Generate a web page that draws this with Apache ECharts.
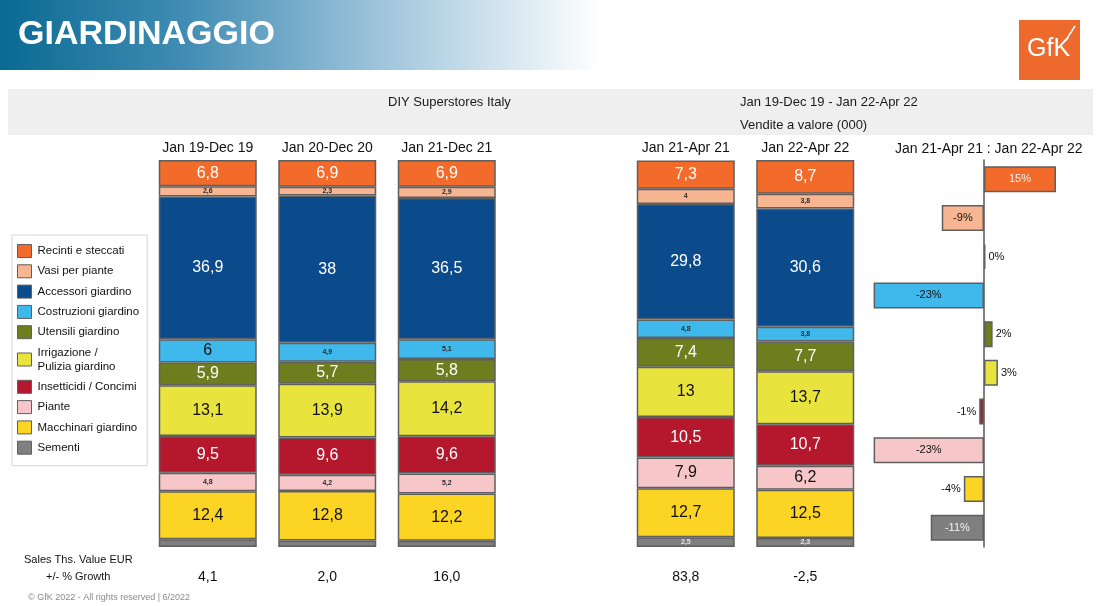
<!DOCTYPE html>
<html>
<head>
<meta charset="utf-8">
<title>Giardinaggio</title>
<script src="https://cdn.jsdelivr.net/npm/echarts@6/dist/echarts.min.js"></script>
<style>
html,body{margin:0;padding:0;background:#fff;}
#main{width:1099px;height:606px;}
</style>
</head>
<body>
<div id="main"></div>
<script>
// periodi (colonne)
var periods = ['Jan 19-Dec 19', 'Jan 20-Dec 20', 'Jan 21-Dec 21', 'Jan 21-Apr 21', 'Jan 22-Apr 22'];
// +/- % growth sotto le colonne
var growth = [4.1, 2.0, 16.0, 83.8, -2.5];

// categorie (ordine legenda, dall'alto)
var segmentNames = ['Recinti e steccati', 'Vasi per piante', 'Accessori giardino', 'Costruzioni giardino',
  'Utensili giardino', 'Irrigazione /\nPulizia giardino', 'Insetticidi / Concimi', 'Piante',
  'Macchinari giardino', 'Sementi'];

// quote % per periodo
var recinti     = [6.8, 6.9, 6.9, 7.3, 8.7];
var vasi        = [2.6, 2.3, 2.9, 4, 3.8];
var accessori   = [36.9, 38, 36.5, 29.8, 30.6];
var costruzioni = [6, 4.9, 5.1, 4.8, 3.8];
var utensili    = [5.9, 5.7, 5.8, 7.4, 7.7];
var irrigazione = [13.1, 13.9, 14.2, 13, 13.7];
var insetticidi = [9.5, 9.6, 9.6, 10.5, 10.7];
var piante      = [4.8, 4.2, 5.2, 7.9, 6.2];
var macchinari  = [12.4, 12.8, 12.2, 12.7, 12.5];
var sementi     = [2.0, 1.7, 1.6, 2.5, 2.3];
var sementiLabelled = [false, false, false, true, true];

// Jan 21-Apr 21 : Jan 22-Apr 22 (%)
var changePct = [15, -8.8, 0.3, -23, 1.8, 2.9, -1, -23, -4.2, -11.1];

var shares = [recinti, vasi, accessori, costruzioni, utensili, irrigazione, insetticidi, piante, macchinari, sementi];

// stili
var segmentColors = ['#f26b2b', '#f7b592', '#0b4a8b', '#3fb9ec', '#6e7e1f', '#e8e43d', '#b5182c', '#f7c6c8', '#fcd424', '#7f7f7f'];
var lightText = [true, false, true, false, true, false, true, false, false, true];
var borderCol = '#5f5f5f';
var fontFam = '"Liberation Sans", Arial, sans-serif';

function fmt(v) { return String(v).replace('.', ','); }
// colonna vuota fra i due blocchi
function withGap(arr, filler) { return [arr[0], arr[1], arr[2], filler, arr[3], arr[4]]; }

var chart = echarts.init(document.getElementById('main'));

var stackSeries = [];
for (var i = segmentNames.length - 1; i >= 0; i--) {
  (function (i) {
    var txt = lightText[i] ? '#ffffff' : '#111111';
    var small = lightText[i] ? '#e6e6e6' : '#2a2a2a';
    stackSeries.push({
      name: segmentNames[i],
      type: 'bar',
      stack: 'tot',
      xAxisIndex: 0,
      yAxisIndex: 0,
      barWidth: 98,
      data: withGap(shares[i], '-'),
      itemStyle: { color: segmentColors[i], borderColor: borderCol, borderWidth: 1.5 },
      label: {
        show: true,
        position: 'inside',
        fontFamily: fontFam,
        formatter: function (p) {
          var idx = p.dataIndex > 3 ? p.dataIndex - 1 : p.dataIndex;
          if (i === 9 && !sementiLabelled[idx]) return '';
          return p.value >= 5.5 ? '{b|' + fmt(p.value) + '}' : '{s|' + fmt(p.value) + '}';
        },
        rich: {
          b: { fontSize: 16, color: txt, fontFamily: fontFam },
          s: { fontSize: 7, color: small, fontWeight: 'bold', fontFamily: fontFam }
        }
      }
    });
  })(i);
}

var changeData = changePct.map(function (v, i) {
  var inside = Math.abs(v) >= 8;
  return {
    value: v,
    itemStyle: { color: segmentColors[i] },
    label: {
      position: inside ? 'inside' : (v >= 0 ? 'right' : 'left'),
      color: inside && lightText[i] ? '#f4f4f4' : '#111111'
    }
  };
});

var option = {
  animation: false,
  textStyle: { fontFamily: fontFam },
  graphic: [
    { type: 'rect', left: 0, top: 0, shape: { width: 600, height: 70 },
      style: { fill: new echarts.graphic.LinearGradient(0, 0, 1, 0, [
        { offset: 0, color: '#0a6a92' }, { offset: 0.3, color: '#3f8bb3' },
        { offset: 0.65, color: '#a3c7dd' }, { offset: 1, color: '#ffffff' }]) } },
    { type: 'text', left: 18, top: 18, style: { text: 'GIARDINAGGIO', fill: '#fff', font: 'bold 34px ' + fontFam } },
    { type: 'rect', left: 1019, top: 20, shape: { width: 61, height: 60 }, style: { fill: '#ee6a2c' } },
    { type: 'text', left: 1027, top: 37, style: { text: 'GfK', fill: '#fff', font: '25px ' + fontFam } },
    { type: 'line', shape: { x1: 1066, y1: 40, x2: 1075, y2: 26 }, style: { stroke: '#fff', lineWidth: 1.5 } },
    { type: 'rect', left: 8, top: 89, shape: { width: 1085, height: 46 }, style: { fill: '#efefef' } },
    { type: 'text', left: 388, top: 96, style: { text: 'DIY Superstores Italy', fill: '#1a1a1a', font: '13px ' + fontFam } },
    { type: 'text', left: 740, top: 96, style: { text: 'Jan 19-Dec 19 - Jan 22-Apr 22', fill: '#1a1a1a', font: '13px ' + fontFam } },
    { type: 'text', left: 740, top: 119, style: { text: 'Vendite a valore (000)', fill: '#1a1a1a', font: '13px ' + fontFam } },
    { type: 'text', left: 24, top: 554, style: { text: 'Sales Ths. Value EUR', fill: '#111', font: '11px ' + fontFam } },
    { type: 'text', left: 46, top: 571, style: { text: '+/- % Growth', fill: '#111', font: '11px ' + fontFam } },
    { type: 'text', left: 28, top: 593, style: { text: '\u00a9 GfK 2022 - All rights reserved | 6/2022', fill: '#8a8a8a', font: '9px ' + fontFam } },
    { type: 'text', left: 895, top: 142, style: { text: 'Jan 21-Apr 21 : Jan 22-Apr 22', fill: '#111', font: '14px ' + fontFam } }
  ],
  legend: {
    orient: 'vertical',
    left: 12,
    top: 235,
    data: segmentNames,
    selectedMode: false,
    icon: 'rect',
    itemWidth: 14,
    itemHeight: 13,
    itemGap: 6.3,
    padding: [9, 8, 11, 5],
    borderColor: '#d4d4d4',
    borderWidth: 1,
    itemStyle: { borderColor: borderCol, borderWidth: 1 },
    textStyle: { fontSize: 11.5, lineHeight: 14, color: '#111', fontFamily: fontFam, padding: [0, 0, 0, 1] }
  },
  grid: [
    { left: 148, top: 160, width: 717, height: 387 },
    { left: 864, top: 160, width: 216, height: 387 }
  ],
  xAxis: [
    { type: 'category', gridIndex: 0, position: 'top', data: withGap(periods, ''),
      axisLine: { show: false }, axisTick: { show: false },
      axisLabel: { fontSize: 14, color: '#111', margin: 5, fontFamily: fontFam } },
    { type: 'category', gridIndex: 0, position: 'bottom',
      data: withGap(growth.map(function (g) { return g.toFixed(1).replace('.', ','); }), ''),
      axisLine: { show: false }, axisTick: { show: false },
      axisLabel: { fontSize: 14, color: '#111', margin: 23, fontFamily: fontFam } },
    { type: 'value', gridIndex: 1, min: -25, max: 20, show: false }
  ],
  yAxis: [
    { type: 'value', gridIndex: 0, min: 0, max: 100, show: false },
    { type: 'category', gridIndex: 1, inverse: true, data: segmentNames,
      axisLine: { show: true, onZero: true, lineStyle: { color: '#555', width: 1.5 } },
      axisTick: { show: false }, axisLabel: { show: false } }
  ],
  series: stackSeries.concat([{
    name: 'change',
    type: 'bar',
    xAxisIndex: 2,
    yAxisIndex: 1,
    barWidth: 26,
    data: changeData,
    itemStyle: { borderColor: borderCol, borderWidth: 1.5 },
    label: {
      show: true, fontSize: 11, distance: 3, fontFamily: fontFam,
      formatter: function (p) { return Math.round(p.value) + '%'; }
    }
  }])
};

chart.setOption(option);
</script>
</body>
</html>
